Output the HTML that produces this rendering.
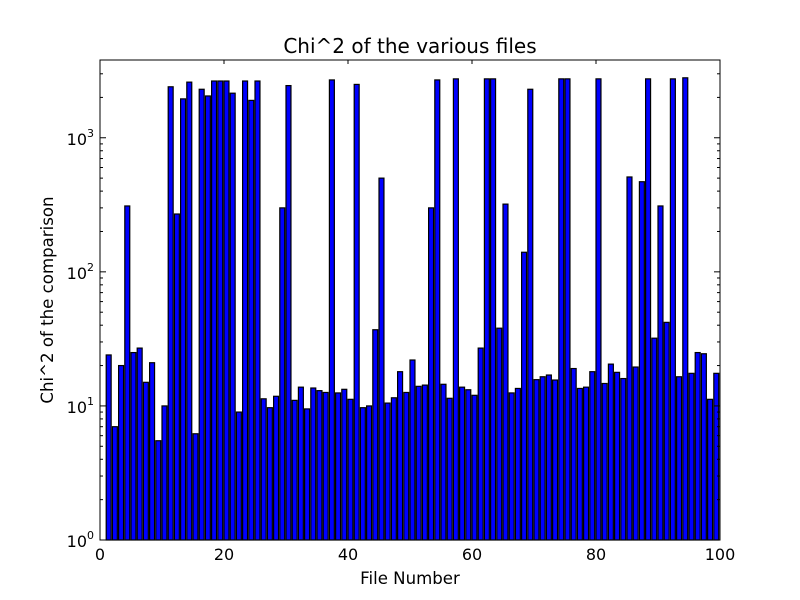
<!DOCTYPE html>
<html><head><meta charset="utf-8"><style>
html,body{margin:0;padding:0;background:#fff;}
svg{display:block;font-family:"DejaVu Sans","Liberation Sans",sans-serif;}
</style></head><body>
<svg id="chart" width="800" height="600" xmlns="http://www.w3.org/2000/svg">
<rect width="800" height="600" fill="#fff"/>
<text x="410" y="53" font-size="20" text-anchor="middle">Chi^2 of the various files</text>
<text x="410" y="584" font-size="16.6" text-anchor="middle">File Number</text>
<text x="0" y="0" font-size="16.6" text-anchor="middle" transform="translate(53,300) rotate(-90)">Chi^2 of the comparison</text>
<g id="bars"></g>
<g id="axes"></g>
<rect x="100" y="60" width="620" height="480" fill="none" stroke="#000" stroke-width="1"/>
</svg>
<script>
const fileNumbers = [];
for (let i = 1; i <= 99; i++) fileNumbers.push(i);
const chiValues = [24,7,20,310,25,27,15,21,5.5,10,2400,270,1950,2600,6.2,2300,2050,2650,2650,2650,2150,9,2650,1900,2650,11.3,9.7,11.8,300,2450,11,13.8,9.5,13.6,13,12.6,2700,12.5,13.3,11.2,2500,9.7,10,37,500,10.5,11.5,18,12.6,22,14,14.3,300,2700,14.5,11.4,2750,13.8,13.2,12,27,2750,2750,38,320,12.5,13.5,140,2300,15.7,16.5,17,15.6,2750,2750,19,13.5,13.8,18,2750,14.7,20.5,17.8,16,510,19.5,470,2750,32,310,42,2750,16.5,2800,17.5,25,24.5,11.2,17.5];
const xTicks = [0,20,40,60,80,100];
const yTickExps = [0,1,2,3];
const barWidth = 0.8;

const X0=100, X1=720, Y0=540, Y1=60;
const xMin=0, xMax=100, logMin=0, logMax=3.58;
const xs = v => X0 + (v-xMin)/(xMax-xMin)*(X1-X0);
const ys = v => Y0 - (Math.log10(v)-logMin)/(logMax-logMin)*(Y0-Y1);
const NS="http://www.w3.org/2000/svg";
const bars=document.getElementById('bars'), axes=document.getElementById('axes');
function mk(tag, attrs, parent){const e=document.createElementNS(NS,tag);for(const k in attrs)e.setAttribute(k,attrs[k]);parent.appendChild(e);return e;}

fileNumbers.forEach((n,i)=>{
  const v=chiValues[i];
  const x=xs(n), w=xs(n+barWidth)-x, y=Math.max(ys(v),Y1);
  const r=mk('rect',{x:x,y:y,width:w,height:Y0-y,fill:'#0000ff',stroke:'#000','stroke-width':1.2},bars);
  
  
});

xTicks.forEach(t=>{
  const x=xs(t);
  const l1=mk('line',{x1:x,x2:x,y1:Y0,y2:Y0-4,stroke:'#000'},axes);
  
  
  const l2=mk('line',{x1:x,x2:x,y1:Y1,y2:Y1+4,stroke:'#000'},axes);
  
  
  const tx=mk('text',{x:x,y:Y0+20,'font-size':16,'text-anchor':'middle'},axes);
  tx.textContent=t;
  
  
});

yTickExps.forEach(e=>{
  const y=ys(Math.pow(10,e));
  const l1=mk('line',{x1:X0,x2:X0+6,y1:y,y2:y,stroke:'#000'},axes);
  
  
  const l2=mk('line',{x1:X1,x2:X1-6,y1:y,y2:y,stroke:'#000'},axes);
  
  
  const tx=mk('text',{x:X0-6,y:y+7,'font-size':16,'text-anchor':'end'},axes);
  
  
  const a=mk('tspan',{},tx); a.textContent='10';
  const b=mk('tspan',{'font-size':11,dy:-8}, tx); b.textContent=e;
  for(let m=2;m<=9;m++){
    const v=m*Math.pow(10,e);
    if(Math.log10(v)>logMax) break;
    const yy=ys(v);
    const t1=mk('line',{x1:X0,x2:X0+3,y1:yy,y2:yy,stroke:'#000'},axes);
    
    
    const t2=mk('line',{x1:X1,x2:X1-3,y1:yy,y2:yy,stroke:'#000'},axes);
    
    
  }
});
</script>
</body></html>
